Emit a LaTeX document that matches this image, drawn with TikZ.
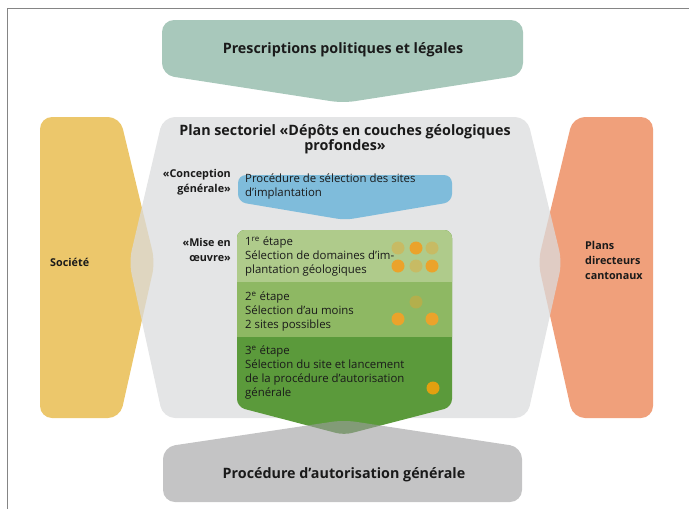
\documentclass[tikz,border=0pt]{standalone}
\usepackage{fontspec}
\setmainfont{Open Sans}
\usetikzlibrary{positioning}
\definecolor{policyGreen}{HTML}{A8C8BB}
\definecolor{societyYellow}{HTML}{ECC76B}
\definecolor{cantonSalmon}{HTML}{F0A07B}
\definecolor{panelGray}{HTML}{DBDCDD}
\definecolor{conceptBlue}{HTML}{7FBCDB}
\definecolor{stepOne}{HTML}{AFCB8B}
\definecolor{stepTwo}{HTML}{8EB863}
\definecolor{stepThree}{HTML}{5B9A3B}
\definecolor{authGray}{HTML}{9D9D9F}
\definecolor{dotOrange}{HTML}{EBA32B}
\definecolor{dotDark}{HTML}{E2A010}
\definecolor{frameGray}{HTML}{858585}
\definecolor{textDark}{HTML}{1A1A1A}

\begin{document}
\begin{tikzpicture}[
  x=1pt, y=-1pt,
  font=\fontsize{11.4}{14}\selectfont,
  text=textDark,
  block/.style={rounded corners=12pt},
  smallblock/.style={rounded corners=8pt},
  boldlabel/.style={font=\fontsize{10.8}{15}\selectfont\bfseries, inner sep=0pt},
  titlelabel/.style={font=\fontsize{14.3}{14.5}\selectfont\bfseries, inner sep=0pt},
  steptext/.style={anchor=north west, align=left, inner sep=0pt},
  dot/.style={circle, fill=dotOrange, minimum size=13pt, inner sep=0pt},
  fadeddot/.style={dot, fill opacity=0.4},
  frameline/.style={draw=frameGray, line width=1.5pt}
]
\useasboundingbox (0,0) rectangle (689,509);
\draw[frameline] (7.5,509) -- (7.5,8.5) -- (689,8.5);

% side blocks and central panel
\fill[societyYellow, block] (40,117) -- (120,117) -- (155,262) -- (120,418) -- (40,418) -- cycle;
\fill[cantonSalmon, block] (573,117) -- (653,117) -- (653,418) -- (573,418) -- (538,262) -- cycle;
\fill[panelGray, fill opacity=0.75, block] (163,117) -- (527,117) -- (562,262) -- (527,418) -- (163,418) -- (129,262) -- cycle;

% top block
\fill[policyGreen, block] (162,75) -- (162,20) -- (523,20) -- (523,75) -- (343,103) -- cycle;

% concept block
\fill[conceptBlue, smallblock] (238,202) -- (238,175) -- (452,175) -- (452,202) -- (345,220) -- cycle;

% steps
\begin{scope}
  \clip[smallblock] (237,407) -- (237,230) -- (452,230) -- (452,407) -- (344,435) -- cycle;
  \fill[stepThree] (230,225) rectangle (460,440);
  \fill[stepTwo] (230,225) rectangle (460,337);
  \fill[stepOne] (230,225) rectangle (460,282);
\end{scope}

% bottom block
\fill[authGray, fill opacity=0.6, block] (163,447) -- (344,420) -- (522,447) -- (522,502) -- (163,502) -- cycle;

% dots
\node[fadeddot] (d1a) at (398,248) {};
\node[dot] (d1b) at (416,248) {};
\node[fadeddot] (d1c) at (432,248) {};
\node[dot] (d1d) at (398,266) {};
\node[fadeddot] (d1e) at (416,266) {};
\node[dot] (d1f) at (432,266) {};
\node[fadeddot] (d2a) at (416,302) {};
\node[dot] (d2b) at (398,319) {};
\node[dot] (d2c) at (432,319) {};
\node[dot, fill=dotDark] (d3a) at (433,388) {};

% texts
\node[titlelabel] (policy) at (343,50) {Prescriptions politiques et légales};
\node[titlelabel, align=center] (plan) at (345,139) {Plan sectoriel «Dépôts en couches géologiques\\profondes»};
\node[boldlabel, align=right, anchor=east] (concept) at (231,182) {«Conception\\générale»};
\node[boldlabel, align=right, anchor=east] (mise) at (231,250) {«Mise en\\œuvre»};
\node[steptext] (selection) at (245,173.5) {Procédure de sélection des sites\\d’implantation};
\node[steptext] (step1) at (245,237) {1\textsuperscript{re} étape\\Sélection de domaines d’im-\\plantation géologiques};
\node[steptext] (step2) at (245,292) {2\textsuperscript{e} étape\\Sélection d’au moins\\2 sites possibles};
\node[steptext] (step3) at (245,345.5) {3\textsuperscript{e} étape\\Sélection du site et lancement\\de la procédure d’autorisation\\générale};
\node[boldlabel, anchor=west] (society) at (50,262) {Société};
\node[boldlabel, anchor=west, align=left] (canton) at (585,260) {Plans\\directeurs\\cantonaux};
\node[titlelabel] (authorization) at (344,475) {Procédure d’autorisation générale};
\end{tikzpicture}
\end{document}
